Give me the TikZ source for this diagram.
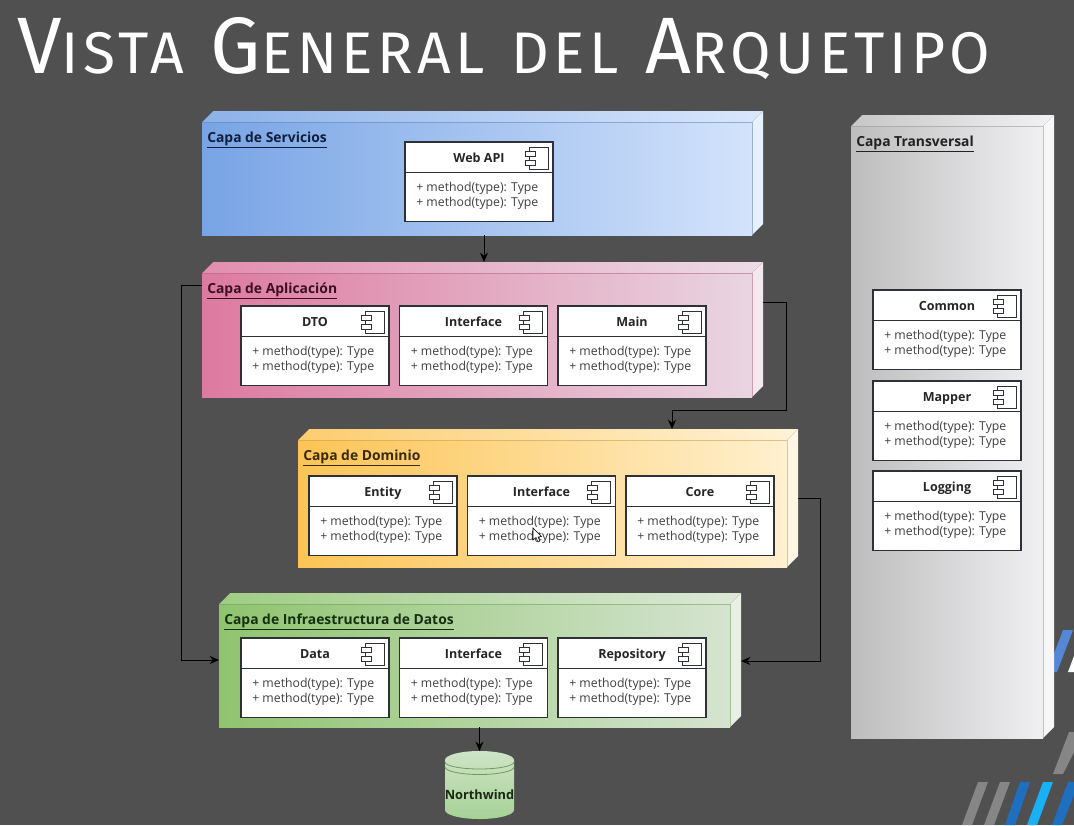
\documentclass[tikz,border=0pt]{standalone}
\usepackage{fontspec}
\setmainfont{Open Sans}
\newfontfamily\ttlfont[LetterSpace=7.5]{Fira Sans}
\usetikzlibrary{arrows.meta,shapes.geometric}
\definecolor{bgc}{HTML}{505050}
\definecolor{edgec}{HTML}{2E3238}
\definecolor{bluel}{HTML}{78A4E5}\definecolor{bluer}{HTML}{D3E3FB}
\definecolor{pinkl}{HTML}{DD7A9F}\definecolor{pinkr}{HTML}{E9D5E1}
\definecolor{yell}{HTML}{FCC455}\definecolor{yelr}{HTML}{FFF0CF}
\definecolor{grnl}{HTML}{8FC46F}\definecolor{grnr}{HTML}{D5E4D0}
\definecolor{gryl}{HTML}{BDBDBD}\definecolor{gryr}{HTML}{F0F0F3}
\definecolor{sgray}{HTML}{868686}\definecolor{sblue}{HTML}{1F6FC0}
\definecolor{scyan}{HTML}{1AB0F5}\definecolor{sblue2}{HTML}{5488D6}
\definecolor{tblue}{HTML}{0F1E3C}\definecolor{tpink}{HTML}{3C0F20}
\definecolor{tyel}{HTML}{3A2A08}\definecolor{tgrn}{HTML}{14300F}\definecolor{tgry}{HTML}{222222}
\definecolor{dbtop}{HTML}{CFE4C6}\definecolor{dbbot}{HTML}{A6D296}\definecolor{dbline}{HTML}{6E9A60}
\tikzset{
  x=0.75pt,y=-0.75pt,
  conn/.style={draw=black,line width=0.7pt,-{Stealth[length=7pt,width=6pt]}},
  compbox/.style={draw=edgec,line width=1pt,fill=white,inner sep=0pt,outer sep=0pt,minimum width=111pt,minimum height=59.5pt},
  comptitle/.style={font=\fontsize{9.4}{11}\selectfont\bfseries,text=black!85,inner sep=0pt,anchor=base},
  compbody/.style={font=\fontsize{9.2}{11.2}\selectfont,text=black!75,inner sep=0pt,align=left,anchor=west},
  layertitle/.style={font=\fontsize{10.4}{11}\selectfont\bfseries,inner sep=0pt,anchor=base west},
}
% \layerbox{name}{x0}{y0}{x1}{y1}{leftcol}{rightcol}{title}{titlecolor}
\newcommand{\layerbox}[9]{%
  \fill[left color=#6!85!white,right color=#7!85!white] (#2,#3) -- (#2+11,#3-11) -- (#4+11,#3-11) -- (#4,#3) -- cycle;
  \fill[#7!55!white] (#4,#3) -- (#4+11,#3-11) -- (#4+11,#5-11) -- (#4,#5) -- cycle;
  \pgfmathsetmacro{\lw}{(#4-#2)*0.75}\pgfmathsetmacro{\lh}{(#5-#3)*0.75}
  \node[minimum width=\lw pt,minimum height=\lh pt,inner sep=0pt,outer sep=0pt,left color=#6,right color=#7,anchor=north west] (#1) at (#2,#3) {};
  \draw[#6!80!black,draw opacity=.55,line width=.5pt] (#2,#3) -- (#4,#3) -- (#4,#5);
  \node[layertitle,text=#9] (#1t) at (#2+5,#3+20) {\underline{#8}};
}
% \compn{name}{x0}{y0}{title}
\newcommand{\compn}[4]{%
  \node[compbox,anchor=north west] (#1) at (#2,#3) {};
  \draw[edgec,line width=.7pt] (#2,#3+30) -- (#2+148,#3+30);
  \node[comptitle] (#1t) at (#2+74,#3+20) {#4};
  \node[compbody] (#1b) at (#2+11,#3+53.5) {+ method(type): Type\\+ method(type): Type};
  \draw[edgec,line width=.7pt,fill=white] (#2+124,#3+5) rectangle (#2+143,#3+27);
  \draw[edgec,line width=.7pt,fill=white] (#2+120,#3+9.5) rectangle (#2+130,#3+14.5);
  \draw[edgec,line width=.7pt,fill=white] (#2+120,#3+18) rectangle (#2+130,#3+23);
}
\begin{document}
\begin{tikzpicture}
\useasboundingbox (0,0) rectangle (1074,825);
\fill[bgc] (0,0) rectangle (1074,825);
% background stripes
\fill[sgray] (978,782) -- (988,782) -- (972,825) -- (962,825) -- cycle;
\fill[sgray] (1000,782) -- (1010,782) -- (994,825) -- (984,825) -- cycle;
\fill[sblue] (1020,782) -- (1030,782) -- (1015,825) -- (1005,825) -- cycle;
\fill[scyan] (1043,782) -- (1053,782) -- (1037,825) -- (1027,825) -- cycle;
\fill[sblue] (1068,782) -- (1074,782) -- (1074,795) -- (1062,825) -- (1052,825) -- cycle;
\fill[sgray] (1069,732) -- (1074,732) -- (1074,752) -- (1063,774) -- (1053,774) -- cycle;
\fill[sblue2] (1063,630) -- (1073,630) -- (1057,672) -- (1047,672) -- cycle;
\fill[white] (1074,656) -- (1074,672) -- (1068,672) -- cycle;
% title
\node[anchor=base west,inner sep=0pt,text=white] (title) at (17,73) {\ttlfont\fontsize{60}{60}\selectfont V\fontsize{44}{44}\selectfont ISTA\hspace{.12em} \fontsize{60}{60}\selectfont G\fontsize{44}{44}\selectfont ENERAL\hspace{.12em} DEL\hspace{.12em} \fontsize{60}{60}\selectfont A\fontsize{44}{44}\selectfont RQUETIPO};
% layers
\layerbox{serv}{202}{122}{752}{235}{bluel}{bluer}{Capa de Servicios}{tblue}
\layerbox{apli}{202}{273}{752}{397}{pinkl}{pinkr}{Capa de Aplicación}{tpink}
\layerbox{domi}{298}{440}{787}{567}{yell}{yelr}{Capa de Dominio}{tyel}
\layerbox{infr}{219}{604}{730}{727}{grnl}{grnr}{Capa de Infraestructura de Datos}{tgrn}
\layerbox{tran}{851}{126}{1043}{738}{gryl}{gryr}{Capa Transversal}{tgry}
% components
\compn{web}{405}{142}{Web API}
\compn{dto}{241}{306}{DTO}
\compn{aint}{399.5}{306}{Interface}
\compn{amain}{558}{306}{Main}
\compn{ent}{309}{476}{Entity}
\compn{dint}{467.5}{476}{Interface}
\compn{core}{626}{476}{Core}
\compn{data}{241}{638}{Data}
\compn{iint}{399.5}{638}{Interface}
\compn{repo}{558}{638}{Repository}
\compn{comm}{873}{290}{Common}
\compn{mapp}{873}{381}{Mapper}
\compn{logg}{873}{471}{Logging}
% database
\shade[top color=dbtop,bottom color=dbbot] (445,760) arc[start angle=180,end angle=360,x radius=34.5,y radius=9] -- (514,810) arc[start angle=0,end angle=180,x radius=34.5,y radius=9] -- cycle;
\node[cylinder,shape border rotate=90,aspect=0.35,minimum width=51.75pt,minimum height=51pt,inner sep=0pt,outer sep=0pt,anchor=north] (nw) at (479.5,751) {};
\draw[dbline,line width=.6pt] (445,762) arc[start angle=180,end angle=0,x radius=34.5,y radius=7];
\draw[dbline,line width=.6pt] (445,767) arc[start angle=180,end angle=0,x radius=34.5,y radius=7.5];
\node[font=\fontsize{9.6}{11}\selectfont\bfseries,text=black!80!grnl,inner sep=0pt] (nwt) at (479.5,795) {Northwind};
% connectors
\coordinate (wa) at (484,262);
\coordinate (ab) at (181,285);
\coordinate (ac) at (181,660);
\coordinate (ad) at (763,302);
\coordinate (ae) at (786,302);
\coordinate (af) at (786,410);
\coordinate (ag) at (672,410);
\coordinate (ah) at (672,429);
\coordinate (da) at (798,498);
\coordinate (db) at (820,498);
\coordinate (dc) at (820,661);
\coordinate (dd) at (741,661);
\draw[conn] (wa |- serv.south) -- (wa);
\draw[conn] (apli.west |- ab) -- (ab) -- (ac) -- (infr.west |- ac);
\draw[conn] (ad) -- (ae) -- (af) -- (ag) -- (ah);
\draw[conn] (da) -- (db) -- (dc) -- (dd);
\draw[conn] (nw.north |- infr.south) -- (nw.north);
% mouse cursor
\fill[white,draw=black,line width=.4pt] (533,528) -- (533,540) -- (536,537.5) -- (538,542) -- (540,541) -- (538,537) -- (541.5,536.5) -- cycle;
\end{tikzpicture}
\end{document}
